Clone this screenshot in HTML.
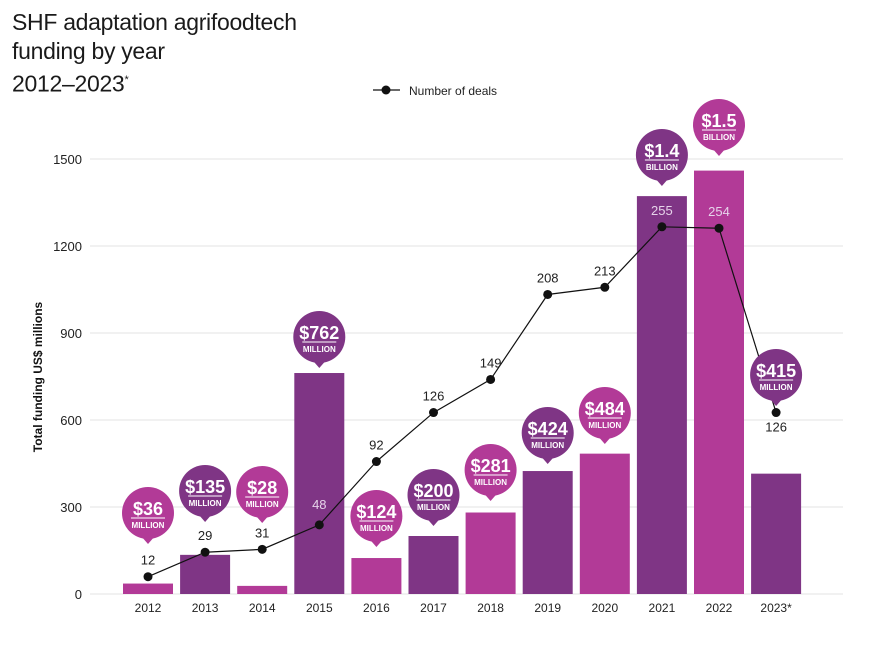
<!DOCTYPE html>
<html><head><meta charset="utf-8"><style>
body{margin:0;background:#fff;font-family:"Liberation Sans",sans-serif;}
#t{position:absolute;left:12px;top:8px;font-size:23px;line-height:29px;color:#1a1a1a;letter-spacing:-0.3px;}
</style></head><body>
<div id="t">SHF adaptation agrifoodtech<br>funding by year<br>2012–2023<sup style="font-size:11px">*</sup></div>
<svg id="c" width="873" height="654" style="position:absolute;left:0;top:0"></svg>
<script>
const years=["2012","2013","2014","2015","2016","2017","2018","2019","2020","2021","2022","2023*"];
const funding=[36,135,28,762,124,200,281,424,484,1372,1460,415];
const deals=[12,29,31,48,92,126,149,208,213,255,254,126];
const bubbleAmt=["$36","$135","$28","$762","$124","$200","$281","$424","$484","$1.4","$1.5","$415"];
const bubbleUnit=["MILLION","MILLION","MILLION","MILLION","MILLION","MILLION","MILLION","MILLION","MILLION","BILLION","BILLION","MILLION"];
const bubbleY=[513,491,492,337,516,495,470,433,413,155,125,375];
const yTicks=[0,300,600,900,1200,1500];
const NS="http://www.w3.org/2000/svg",svg=document.getElementById('c');
const PURPLE="#7f3585",PINK="#b23a97";
const y=v=>594-v*0.29, yd=d=>594-d*1.44, x=i=>148+i*57.1;
function mk(t,a,p){const e=document.createElementNS(NS,t);for(const k in a)e.setAttribute(k,a[k]);(p||svg).appendChild(e);return e;}
yTicks.forEach(v=>{
 const g=mk('line',{x1:90,x2:843,y1:y(v),y2:y(v),stroke:'#e3e3e3','stroke-width':1});
 
 
 const t=mk('text',{x:82,y:y(v)+5,'text-anchor':'end','font-size':13,fill:'#222'});t.textContent=v;
 
 
});
const yt=mk('text',{transform:'translate(42,377) rotate(-90)','text-anchor':'middle','font-size':12,'font-weight':'bold',fill:'#111'});yt.textContent='Total funding US$ millions';


funding.forEach((v,i)=>{
 const col=i%2?PURPLE:PINK;
 const b=mk('rect',{x:x(i)-25,y:y(v),width:50,height:594-y(v),fill:col});
 
 
 const t=mk('text',{x:x(i),y:612,'text-anchor':'middle','font-size':12,fill:'#222'});t.textContent=years[i];
 
 
});
const ln=mk('polyline',{points:deals.map((d,i)=>x(i)+','+yd(d)).join(' '),fill:'none',stroke:'#111','stroke-width':1.2});


deals.forEach((d,i)=>{
 const p=mk('circle',{cx:x(i),cy:yd(d),r:4.5,fill:'#111'});
 
 
 const inside=(i==3||i==9||i==10),below=(i==11);
 const t=mk('text',{x:x(i),y:below?yd(d)+19:(i==3?yd(d)-16:yd(d)-12),'text-anchor':'middle','font-size':13,fill:inside?'#e6d3ea':'#222'});t.textContent=d;
 
 
});
funding.forEach((v,i)=>{
 const col=i%2?PURPLE:PINK;
 const by=bubbleY[i],g=mk('g',{});
 
 
 mk('circle',{cx:x(i),cy:by,r:26,fill:col},g);
 mk('path',{d:`M${x(i)-7} ${by+23}L${x(i)} ${by+31}L${x(i)+7} ${by+23}Z`,fill:col},g);
 const a=mk('text',{x:x(i),y:by+2,'text-anchor':'middle','font-size':18,'font-weight':'bold',fill:'#fff'},g);a.textContent=bubbleAmt[i];
 mk('line',{x1:x(i)-17,x2:x(i)+17,y1:by+5,y2:by+5,stroke:'#fff','stroke-width':1},g);
 const u=mk('text',{x:x(i),y:by+15,'text-anchor':'middle','font-size':8,'font-weight':'bold',fill:'#fff'},g);u.textContent=bubbleUnit[i];
});
const lg=mk('g',{});


mk('line',{x1:373,x2:400,y1:90,y2:90,stroke:'#111','stroke-width':1.2},lg);
mk('circle',{cx:386,cy:90,r:4.5,fill:'#111'},lg);
const lt=mk('text',{x:409,y:95,'font-size':12,fill:'#222'},lg);lt.textContent='Number of deals';
</script>
</body></html>
